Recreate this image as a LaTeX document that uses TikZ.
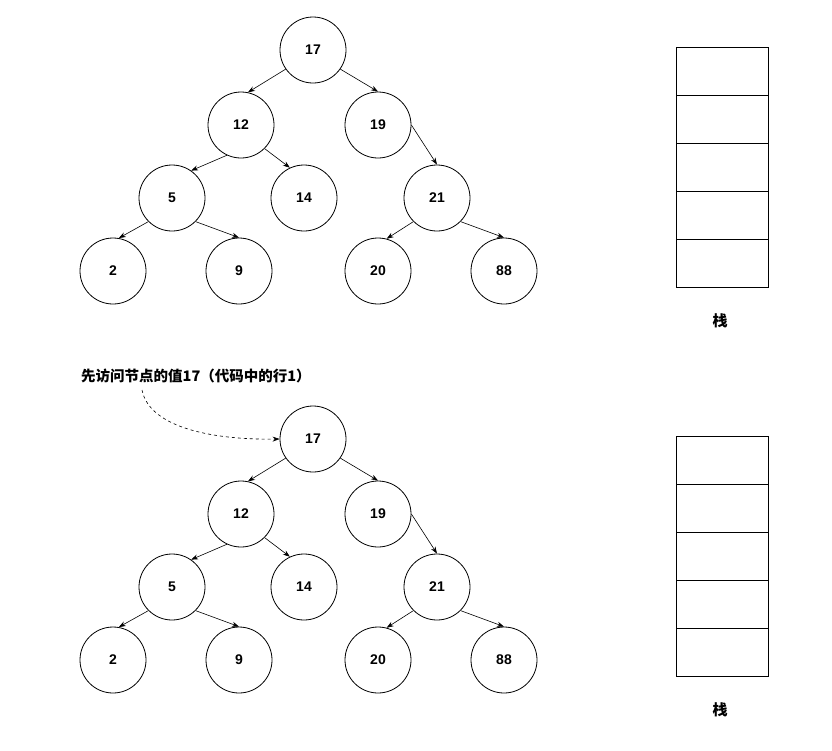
\documentclass[tikz,border=0pt]{standalone}
\usepackage{fontspec}
\setmainfont{Liberation Sans}
\newfontfamily\cjk{Noto Sans CJK SC}
\usetikzlibrary{arrows.meta}
\begin{document}
\begin{tikzpicture}[x=1pt,y=-1pt,
  tn/.style={circle,draw,line width=0.8pt,minimum size=66pt,inner sep=0pt,font=\bfseries\fontsize{14}{16}\selectfont},
  ed/.style={-{Stealth[length=7pt,width=5pt]},line width=0.6pt},
  cell/.style={draw,line width=0.8pt,minimum width=92pt,minimum height=48pt,inner sep=0pt}]
\useasboundingbox (0,0) rectangle (832,750);
\foreach \o/\p in {0/a,389/b}{
  \node[tn] (\p17) at (313,50+\o) {17};
  \node[tn] (\p12) at (241,125+\o) {12};
  \node[tn] (\p19) at (378,125+\o) {19};
  \node[tn] (\p5) at (172,198+\o) {5};
  \node[tn] (\p14) at (304,198+\o) {14};
  \node[tn] (\p21) at (437,198+\o) {21};
  \node[tn] (\p2) at (113,271+\o) {2};
  \node[tn] (\p9) at (239,271+\o) {9};
  \node[tn] (\p20) at (378,271+\o) {20};
  \node[tn] (\p88) at (504,271+\o) {88};
  \draw[ed] (\p17.215) -- (\p12.78);
  \draw[ed] (\p17.325) -- (\p19.90);
  \draw[ed] (\p12.245) -- (\p5.55);
  \draw[ed] (\p12.315) -- (\p14.115);
  \draw[ed] (\p19.0) -- (\p21.90);
  \draw[ed] (\p5.225) -- (\p2.80);
  \draw[ed] (\p5.315) -- (\p9.90);
  \draw[ed] (\p21.225) -- (\p20.75);
  \draw[ed] (\p21.315) -- (\p88.90);
  \foreach \i in {0,...,4}{
    \node[cell] (\p s\i) at (722,71+48*\i+\o) {};
  }
  \node[font=\cjk\bfseries\fontsize{15}{17}\selectfont] (\p lab) at (720,321+\o) {栈};
}
\node[anchor=west,font=\cjk\bfseries\fontsize{14.5}{17}\selectfont,inner sep=0pt] (note) at (81,376) {先访问节点的值17（代码中的行1）};
\coordinate (ns) at (142,390);
\draw[ed,dashed] (ns) .. controls (150,430) and (220,440) .. (b17.west);
\end{tikzpicture}
\end{document}
